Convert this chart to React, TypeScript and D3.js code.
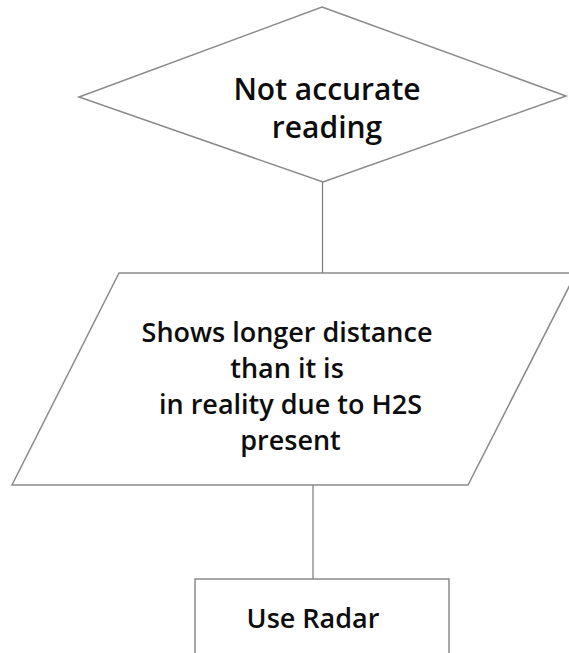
import React, { useRef, useEffect } from "react";
import * as d3 from "d3";

// flowchart content
const decisionLines = ["Not accurate", "reading"];
const ioLines = ["Shows longer distance", "than it is", " in reality due to H2S", " present"];
const processLines = ["Use Radar"];

const W = 569;
const H = 653;

export default function App() {
  const svgRef = useRef<SVGSVGElement>(null);

  useEffect(() => {
    const svg = d3.select(svgRef.current);
    svg.selectAll("*").remove();

    const line = d3.line<[number, number]>().curve(d3.curveLinearClosed);
    const font = "'Open Sans', 'Noto Sans', sans-serif";

    // connectors (behind shapes)
    const links: [number, number, number, number][] = [
      [322.5, 182, 322.5, 273],
      [313, 485, 313, 579],
    ];
    svg.append("g")
      .selectAll("line")
      .data(links)
      .join("line")
      .attr("x1", d => d[0]).attr("y1", d => d[1])
      .attr("x2", d => d[2]).attr("y2", d => d[3])
      .attr("stroke", "#7a7a7a")
      .attr("stroke-width", 1.2);

    // decision diamond
    const diamond: [number, number][] = [[322, 7], [566, 96], [323, 182], [79, 97]];
    // parallelogram
    const para: [number, number][] = [[119, 273], [576, 273], [468, 485], [12, 485]];
    // rectangle
    const rect: [number, number][] = [[195, 579], [449, 579], [449, 680], [195, 680]];

    svg.append("g")
      .selectAll("path")
      .data([diamond, para, rect])
      .join("path")
      .attr("d", d => line(d))
      .attr("fill", "#ffffff")
      .attr("stroke", "#8a8a8a")
      .attr("stroke-width", 1.5);

    const blocks = [
      { lines: decisionLines, cx: 327, y0: 100, dy: 38, size: 30 },
      { lines: ioLines, cx: 287, y0: 342, dy: 36, size: 27 },
      { lines: processLines, cx: 313, y0: 628, dy: 36, size: 27 },
    ];

    blocks.forEach(b => {
      svg.append("text")
        .attr("font-family", font)
        .attr("font-weight", 600)
        .attr("font-size", b.size)
        .attr("fill", "#0d0d0d")
        .attr("text-anchor", "middle")
        .attr("xml:space", "preserve")
        .style("white-space", "pre")
        .selectAll("tspan")
        .data(b.lines)
        .join("tspan")
        .attr("x", b.cx)
        .attr("y", (_, i) => b.y0 + i * b.dy)
        .text(d => d);
    });
  }, []);

  return (
    <svg
      ref={svgRef}
      width={W}
      height={H}
      viewBox={`0 0 ${W} ${H}`}
      style={{ position: "absolute", left: 0, top: 0, background: "#fff" }}
    />
  );
}
